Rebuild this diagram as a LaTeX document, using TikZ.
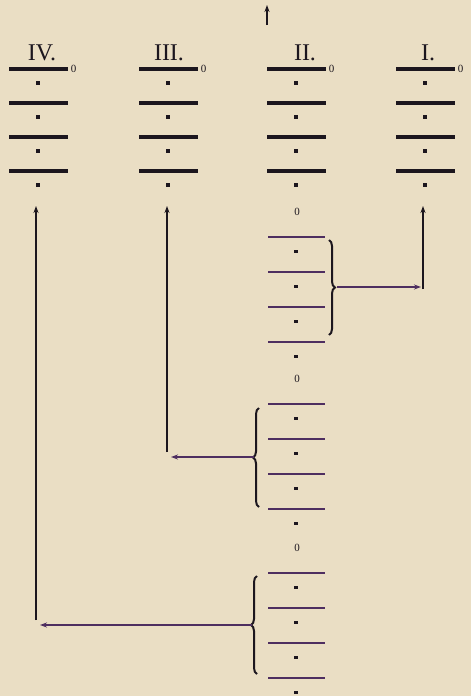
\documentclass[tikz,border=0pt]{standalone}
\usepackage{fontspec}
\setmainfont{Liberation Serif}
\usetikzlibrary{decorations.pathreplacing,arrows.meta}
\definecolor{papier}{RGB}{234,222,196}
\definecolor{encre}{RGB}{28,22,30}
\definecolor{mauve}{RGB}{78,46,96}
\begin{document}
\begin{tikzpicture}[
    x=1pt, y=-1pt,  % On travaille en points, y vers le bas
    % Styles des traits et des points
    barre/.style={rectangle, fill=encre, inner sep=0pt, minimum width=59pt, minimum height=3.6pt},
    trait/.style={rectangle, fill=mauve, inner sep=0pt, minimum width=57pt, minimum height=1.6pt},
    point/.style={rectangle, fill=encre, inner sep=0pt, minimum size=3.2pt},
    zero/.style={font=\fontsize{11}{11}\selectfont, text=encre, inner sep=0pt},
    titre/.style={font=\fontsize{24}{26}\selectfont, text=encre, anchor=base},
    accolade/.style={decorate, decoration={brace, amplitude=6pt}, line width=2pt, encre},
    fleche/.style={-{Stealth[length=7pt, width=5pt]}, line width=1.3pt}
]
\fill[papier] (0,0) rectangle (471,696);
\useasboundingbox (0,0) rectangle (471,696);
% Colonnes du haut
\foreach \col/\x/\xt in {IV/38/42, III/168/169, II/296/305, I/425/428} {
    \node[titre] (t-\col) at (\xt,60) {\col.};
    \foreach \k in {1,...,4} {
        \node[barre] (\col-b\k) at (\x,{69+34*(\k-1)}) {};
        \node[point] (\col-p\k) at (\x,{83+34*(\k-1)}) {};
    }
    \node[zero, anchor=west] (\col-z) at ([xshift=3pt]\col-b1.east) {0};
}
% Suite de la colonne II
\foreach \g/\y in {1/237, 2/404, 3/573} {
    \node[zero] (z\g) at (297,\y-25) {0};
    \foreach \k in {1,...,4} {
        \node[trait] (g\g-b\k) at (296,{\y+35*(\k-1)}) {};
        \node[point] (g\g-p\k) at (296,{\y+14.5+35*(\k-1)}) {};
    }
}
% Accolades
\draw[accolade] (329,240) -- (329,335);
\draw[accolade] (259,507) -- (259,408);
\draw[accolade] (257,674) -- (257,576);
% Points de raccord
\coordinate (haut-a) at (267,25);
\coordinate (haut-b) at (267,5);
\coordinate (pointeI) at (337,287);
\coordinate (coinI) at (421,287);
\coordinate (baseI) at (423,289);
\coordinate (I-pied) at (423,206);
\coordinate (pointeIII) at (254,457);
\coordinate (coinIII) at (171,457);
\coordinate (baseIII) at (167,452);
\coordinate (III-pied) at (167,206);
\coordinate (pointeIV) at (252,625);
\coordinate (coinIV) at (40,625);
\coordinate (baseIV) at (36,620);
\coordinate (IV-pied) at (36,206);
% Fleches
\draw[fleche, encre] (haut-a) -- (haut-b);
\draw[fleche, mauve] (pointeI) -- (coinI);
\draw[fleche, encre] (baseI) -- (I-pied);
\draw[fleche, mauve] (pointeIII) -- (coinIII);
\draw[fleche, encre] (baseIII) -- (III-pied);
\draw[fleche, mauve] (pointeIV) -- (coinIV);
\draw[fleche, encre] (baseIV) -- (IV-pied);
\end{tikzpicture}
\end{document}
